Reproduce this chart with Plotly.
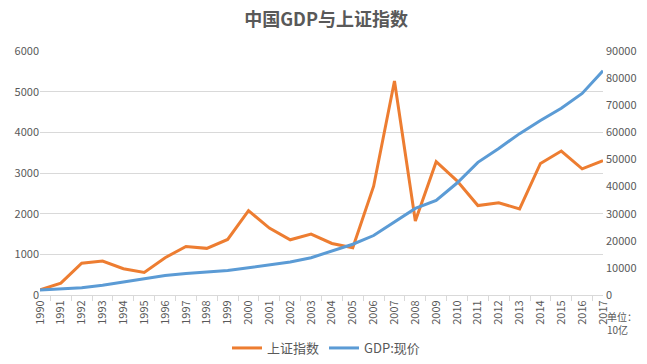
import plotly.graph_objects as go

years = [str(y) for y in range(1990, 2018)]
sse_index = [127, 292, 780, 833, 647, 555, 917, 1194, 1147, 1367, 2073, 1646, 1358, 1497,
             1267, 1161, 2675, 5262, 1821, 3277, 2808, 2199, 2269, 2116, 3235, 3539, 3104, 3307]
gdp = [1887, 2201, 2719, 3567, 4864, 6134, 7181, 7971, 8520, 9056, 10028, 11086, 12172, 13742,
       16184, 18732, 21944, 27023, 31952, 34908, 41303, 48930, 54037, 59524, 64397, 68905, 74359, 82712]
left_ticks = [0, 1000, 2000, 3000, 4000, 5000, 6000]
right_ticks = [0, 10000, 20000, 30000, 40000, 50000, 60000, 70000, 80000, 90000]

font_family = "Noto Sans CJK SC, Noto Sans, sans-serif"
grey = "#595959"

fig = go.Figure()
fig.add_trace(go.Scatter(x=years, y=sse_index, name="上证指数", mode="lines",
                         line=dict(color="#ED7D31", width=3), yaxis="y"))
fig.add_trace(go.Scatter(x=years, y=gdp, name="GDP:现价", mode="lines",
                         line=dict(color="#5B9BD5", width=3), yaxis="y2"))

fig.update_layout(
    width=631, height=348,
    margin=dict(l=32, r=36, t=43, b=61),
    paper_bgcolor="white", plot_bgcolor="white",
    font=dict(family=font_family, color=grey, size=11),
    title=dict(text="<b>中国GDP与上证指数</b>", x=0.504, xanchor="center", y=0.9655, yanchor="middle",
               font=dict(size=18, color=grey, family=font_family)),
    xaxis=dict(type="category", tickangle=-90, showgrid=False, showline=True, automargin=False,
               linecolor="#d9d9d9", linewidth=1, ticks="outside", tickson="boundaries",
               ticklen=5, tickcolor="#d9d9d9", tickfont=dict(size=11, color=grey)),
    yaxis=dict(range=[0, 6000], tickvals=left_ticks, showgrid=True, gridcolor="#d9d9d9",
               automargin=False, tickformat="d",
               zeroline=False, showline=False, tickfont=dict(size=11, color=grey)),
    yaxis2=dict(range=[0, 90000], tickvals=right_ticks, overlaying="y", side="right",
                automargin=False, tickformat="d", ticklabelstandoff=2,
                showgrid=False, zeroline=False, showline=False, tickfont=dict(size=11, color=grey)),
    legend=dict(orientation="h", xref="paper", x=0.508, xanchor="center",
                yref="container", y=0.023, yanchor="middle",
                font=dict(size=13, color=grey)),
    showlegend=True,
)
fig.add_annotation(text="单位：<br>10亿", xref="paper", yref="paper", x=1.003, y=-0.05,
                   xanchor="left", yanchor="top", showarrow=False, align="left",
                   font=dict(size=10, color=grey))

fig.write_html("out.html")
